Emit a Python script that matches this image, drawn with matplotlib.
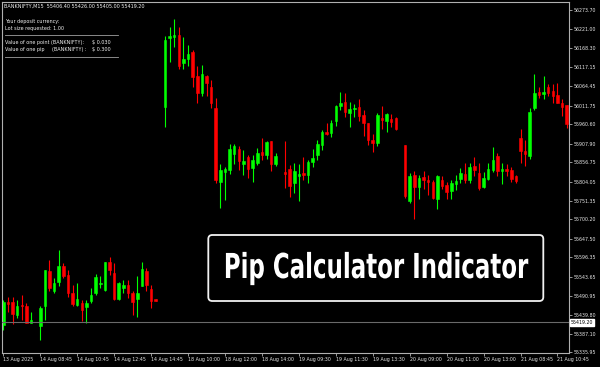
import numpy as np
import matplotlib
matplotlib.use("Agg")
import matplotlib.pyplot as plt
from matplotlib.patches import FancyBboxPatch
from matplotlib.lines import Line2D
from matplotlib.patheffects import AbstractPathEffect
from matplotlib.transforms import Affine2D, blended_transform_factory

nan = np.nan

# BANKNIFTY M15 candles, 13 Aug - 21 Aug 2025 (nan = empty slot at a day break)
opens = [55412, 55475, 55475, 55439, 55467, 55463, 55418, nan,
         55409, 55462, 55560, 55503, 55530, 55573, 55549, 55500, 55466, 55471,
         55460, 55478, 55500, 55524, 55507, 55585, 55553, 55482, 55512, 55521,
         55500, 55482, 55518, 55560, 55509, 55482, nan,
         56007, 56198, 56201, 56205, 56128, 56140, 56159, 56093, 56047, 56094,
         56064, 56006, 55804, 55830, 55836, 55880, 55893, 55852, 55871, 55841,
         55856, 55884, 55877, 55915, 55852, nan,
         55831, 55839, 55800, 55818, 55827, 55822, 55858, 55877, 55904, 55941,
         55936, 55971, 56012, 56023, 55991, 56002, 56007, 55987, 55964, 55918,
         55909, 55979, 55971, 55975, 55977, nan,
         55904, 55752, 55822, 55789, 55816, 55809, 55804, 55757, 55809, 55795,
         55779, 55797, 55810, 55825, 55807, 55847, 55827, 55789, 55812, 55836,
         55874, 55834, 55839, 55836, 55818,
         55923, 55888, 55875, 56005, 56050, 56044, 56062, 56053, 56041, 56020, 56014]
highs = [55480, 55489, 55489, 55480, 55494, 55471, 55448, nan,
         55462, 55562, 55590, 55540, 55617, 55581, 55562, 55521, 55526, 55480,
         55480, 55512, 55551, 55544, 55585, 55597, 55581, 55530, 55535, 55535,
         55503, 55544, 55585, 55567, 55521, 55483, nan,
         56203, 56226, 56249, 56228, 56201, 56178, 56164, 56119, 56123, 56096,
         56082, 56032, 55852, 55845, 55907, 55907, 55902, 55891, 55877, 55877,
         55895, 55923, 55916, 55915, 55882, nan,
         55915, 55850, 55856, 55852, 55871, 55863, 55893, 55918, 55945, 55965,
         55973, 56013, 56050, 56046, 56023, 56017, 56031, 56000, 55965, 55934,
         55991, 56011, 55993, 55989, 55980, nan,
         55904, 55827, 55834, 55822, 55834, 55822, 55809, 55822, 55818, 55804,
         55809, 55822, 55841, 55854, 55854, 55871, 55854, 55831, 55854, 55898,
         55883, 55854, 55852, 55845, 55822,
         55947, 55918, 56005, 56099, 56064, 56093, 56071, 56071, 56075, 56029, 56014]
lows = [55398, 55448, 55414, 55430, 55425, 55416, 55416, nan,
        55371, 55425, 55503, 55498, 55517, 55540, 55489, 55462, 55462, 55421,
        55416, 55471, 55494, 55512, 55503, 55549, 55480, 55480, 55498, 55485,
        55439, 55434, 55517, 55503, 55457, 55477, nan,
        55953, 56132, 56172, 56111, 56111, 56119, 56064, 56018, 56038, 56037,
        56005, 55800, 55731, 55754, 55825, 55852, 55836, 55822, 55813, 55802,
        55850, 55863, 55865, 55834, 55847, nan,
        55786, 55763, 55772, 55752, 55809, 55801, 55843, 55863, 55889, 55931,
        55925, 55956, 56000, 55980, 55954, 55980, 55971, 55929, 55904, 55886,
        55902, 55947, 55941, 55954, 55945, nan,
        55758, 55746, 55701, 55756, 55783, 55767, 55756, 55728, 55783, 55756,
        55756, 55781, 55801, 55800, 55801, 55818, 55781, 55786, 55809, 55831,
        55820, 55798, 55818, 55804, 55800,
        55856, 55846, 55865, 56000, 56032, 56029, 56037, 56020, 56018, 55984, 55950]
closes = [55475, 55470, 55442, 55462, 55464, 55418, 55425, nan,
          55458, 55562, 55512, 55527, 55573, 55546, 55498, 55469, 55482, 55451,
          55471, 55494, 55542, 55527, 55585, 55562, 55482, 55527, 55521, 55500,
          55475, 55500, 55564, 55521, 55478, 55478, nan,
          56192, 56203, 56206, 56121, 56140, 56153, 56091, 56047, 56098, 56073,
          56018, 55807, 55836, 55839, 55893, 55902, 55859, 55861, 55838, 55863,
          55883, 55877, 55913, 55852, 55874, nan,
          55825, 55792, 55834, 55825, 55823, 55857, 55868, 55907, 55941, 55934,
          55964, 56011, 56019, 55994, 56003, 56006, 55984, 55964, 55918, 55909,
          55986, 55973, 55988, 55966, 55947, nan,
          55765, 55820, 55790, 55813, 55807, 55803, 55758, 55818, 55793, 55774,
          55800, 55806, 55828, 55807, 55845, 55836, 55787, 55813, 55838, 55863,
          55834, 55839, 55833, 55811, 55806,
          55888, 55880, 55995, 56047, 56041, 56050, 56046, 56038, 56020, 56009, 55962]

price_ticks = [56273.70, 56221.00, 56168.30, 56117.15, 56064.45, 56011.75,
               55960.60, 55907.90, 55856.75, 55804.05, 55751.35, 55700.20,
               55647.50, 55596.35, 55543.65, 55490.95, 55439.80, 55387.10, 55335.95]
time_labels = ["13 Aug 2025", "14 Aug 08:45", "14 Aug 10:45", "14 Aug 12:45",
               "14 Aug 14:45", "18 Aug 10:00", "18 Aug 12:00", "18 Aug 14:00",
               "19 Aug 09:30", "19 Aug 11:30", "19 Aug 13:30", "20 Aug 09:00",
               "20 Aug 11:00", "20 Aug 13:00", "21 Aug 08:45", "21 Aug 10:45"]
last_price = 55419.20


class Stretch(AbstractPathEffect):
    # make the glyphs taller about the baseline (a condensed look)
    def __init__(self, sy):
        super().__init__()
        self.sy = sy

    def draw_path(self, renderer, gc, tpath, affine, rgbFace=None):
        y0 = affine.transform((0, 0))[1]
        tall = affine + Affine2D().translate(0, -y0).scale(1, self.sy).translate(0, y0)
        renderer.draw_path(gc, tpath, tall, rgbFace)


fig = plt.figure(figsize=(6, 3.67), dpi=100, facecolor="black")
ax = fig.add_axes([1.7 / 600, 1 - 352.5 / 367, 567.3 / 600, 350.8 / 367])
ax.set_facecolor("black")

o, h, l, c = (np.array(a, dtype=float) for a in (opens, highs, lows, closes))
x = np.arange(len(o))
ok = ~np.isnan(o)
colors = np.where(c >= o, "#00ff00", "#ff0000")

ax.vlines(x[ok], l[ok], h[ok], colors=colors[ok], linewidth=0.8)
ax.bar(x[ok], (c - o)[ok], bottom=o[ok], width=0.55, color=colors[ok],
       edgecolor=colors[ok], linewidth=0.4)

ax.axhline(last_price, color="#6a6a6a", linewidth=0.8, zorder=3)

ax.set_xlim(-0.35, 122.5)
ax.set_ylim(55335.9, 56296.4)

ax.yaxis.tick_right()
ax.set_yticks(price_ticks)
ax.set_yticklabels([f"{p:.2f}" for p in price_ticks])
ax.set_xticks(np.arange(len(time_labels)) * 8)
ax.set_xticklabels(time_labels, ha="left")
ax.tick_params(colors="#b0b0b0", labelcolor="#e6e6e6", labelsize=3.4,
               length=2.2, width=0.6, pad=0.8)
for s in ax.spines.values():
    s.set_color("#b0b0b0")
    s.set_linewidth(0.8)

ax.text(1.003, last_price, "55419.20", transform=blended_transform_factory(ax.transAxes, ax.transData),
        fontsize=3.4, color="black", ha="left", va="center",
        bbox=dict(boxstyle="square,pad=0.2", fc="white", ec="white"))

# info panel, top left
inch = fig.dpi_scale_trans
txt = dict(transform=inch, fontsize=3.5, color="#f0f0f0", va="center")
fig.text(0.04, 3.61, "BANKNIFTY,M15  55406.40 55426.00 55405.00 55419.20", **txt)
fig.text(0.053, 3.45, "Your deposit currency:", **txt)
fig.text(0.053, 3.383, "Lot size requested: 1.00", **txt)
fig.text(0.053, 3.243, "Value of one point (BANKNIFTY):", **txt)
fig.text(0.92, 3.243, "$ 0.030", **txt)
fig.text(0.053, 3.177, "Value of one pip", **txt)
fig.text(0.515, 3.177, "(BANKNIFTY) :", **txt)
fig.text(0.92, 3.177, "$ 0.300", **txt)
for yy in (3.317, 3.097):
    fig.add_artist(Line2D([0.053, 1.18], [yy, yy], transform=inch, color="#a0a0a0", linewidth=0.6))

# title box
fig.add_artist(FancyBboxPatch((2.083, 0.66), 3.35, 0.66, boxstyle="round,pad=0,rounding_size=0.04",
                              transform=inch, facecolor="black", edgecolor="#f2f2f2", linewidth=1.3))
fig.text(3.755, 0.89, "Pip Calculator Indicator", transform=inch, fontsize=16.5,
         fontweight="bold", color="white", ha="center", va="baseline",
         path_effects=[Stretch(1.5)])

fig.savefig("out.png", dpi=100, facecolor="black")
